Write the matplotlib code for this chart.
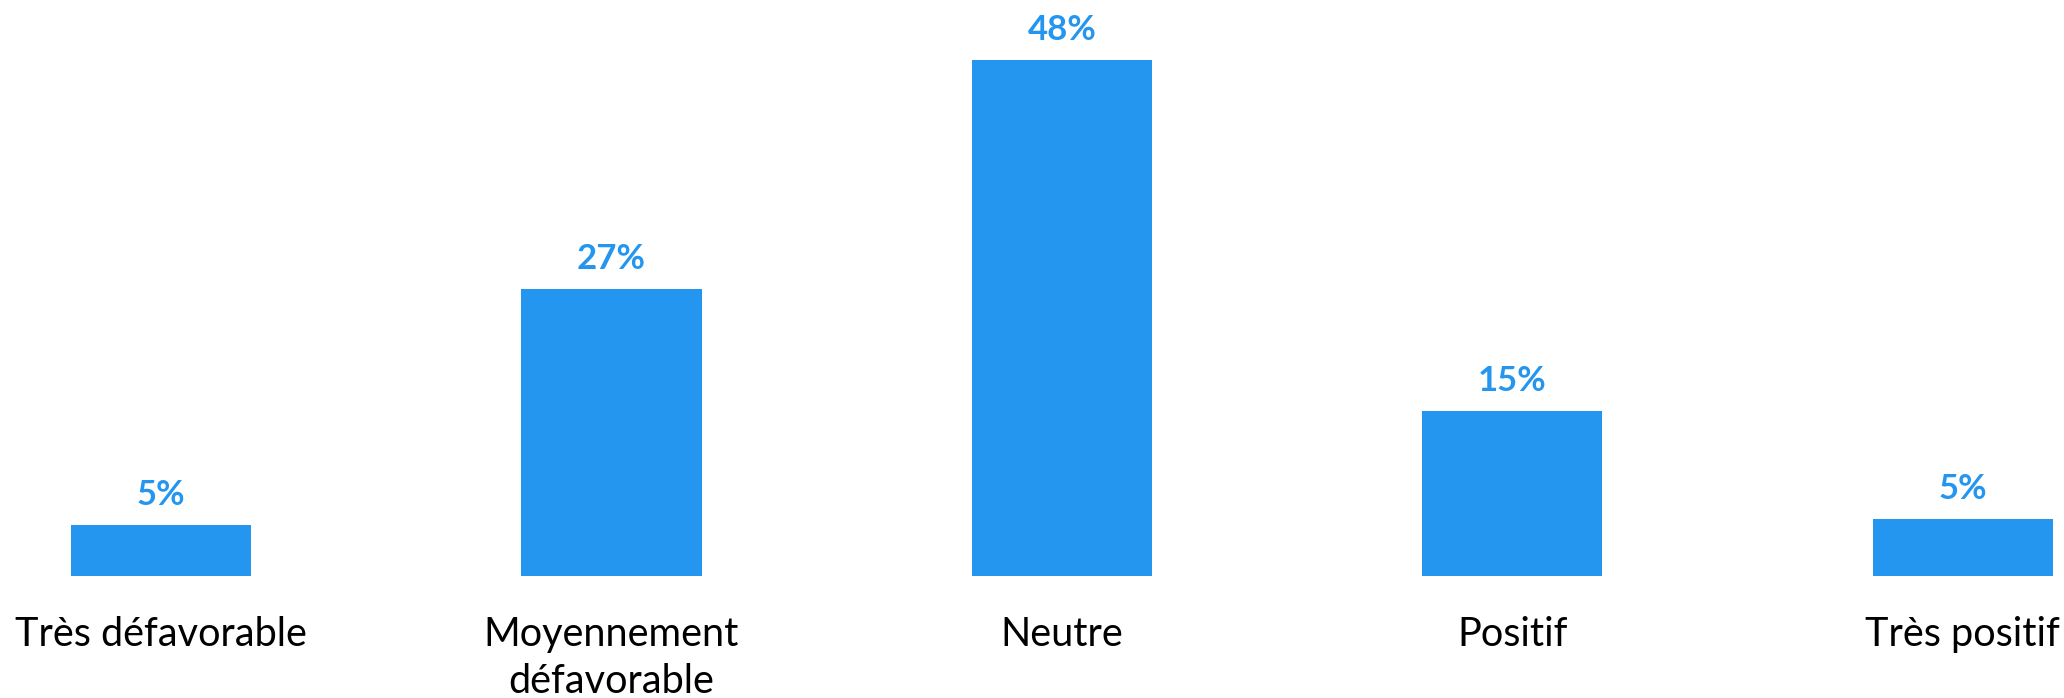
import matplotlib.pyplot as plt

# survey answers, share of respondents (%)
categories = ["Très défavorable", "Moyennement\ndéfavorable", "Neutre", "Positif", "Très positif"]
values = [4.7, 26.7, 48.0, 15.3, 5.3]
value_labels = ["5%", "27%", "48%", "15%", "5%"]

bar_color = "#2496F0"
plt.rcParams['font.family'] = ['Lato', 'DejaVu Sans']

fig = plt.figure(figsize=(20.64, 6.98), dpi=100)
ax = fig.add_axes([0, (698 - 575.7) / 698, 1, 575.7 / 698])

x = list(range(len(categories)))
bars = ax.bar(x, values, width=0.4, color=bar_color)
ax.bar_label(bars, labels=value_labels, padding=10, color=bar_color,
             fontsize=25, fontweight="bold")

ax.set_xlim(-0.3575, 4.225)
ax.set_ylim(0, 575.7 / 10.74)
ax.set_xticks(x)
ax.set_xticklabels(categories, fontsize=28.5, color="black", linespacing=1.33)
ax.tick_params(axis="x", length=0, pad=29)
ax.set_yticks([])
for s in ax.spines.values():
    s.set_visible(False)

fig.savefig("out.png", dpi=100, facecolor="white")
